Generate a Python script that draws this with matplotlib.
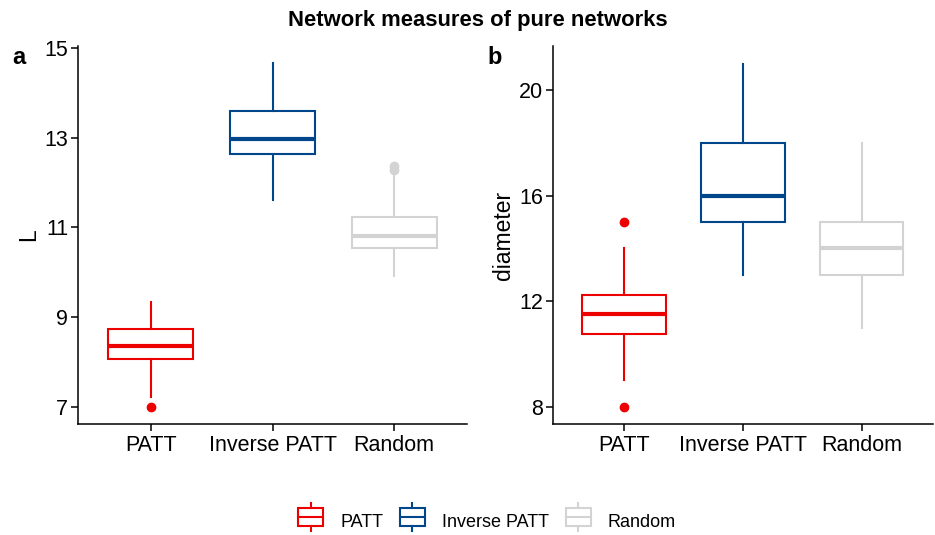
"""
Network measures of pure networks -- boxplots of L and diameter for
PATT, inverse PATT and random networks (two panels, shared legend).
"""
import matplotlib; matplotlib.use("Agg")
import matplotlib.pyplot as plt
from matplotlib.legend_handler import HandlerBase
from matplotlib.patches import Rectangle, Patch
from matplotlib.lines import Line2D

plt.rcParams["font.family"] = ["Liberation Sans", "DejaVu Sans"]

groups = ["PATT", "Inverse PATT", "Random"]
colors = ["#ED0000", "#00468B", "#D3D3D3"]

# panel a: L  (whislo, q1, med, q3, whishi, fliers)
L_whislo = [7.22, 11.61, 9.91]
L_q1     = [8.06, 12.63, 10.54]
L_med    = [8.36, 12.97, 10.80]
L_q3     = [8.74, 13.59, 11.23]
L_whishi = [9.33, 14.68, 12.20]
L_fliers = [[6.98], [], [12.28, 12.38]]

# panel b: diameter
D_whislo = [9, 13, 11]
D_q1     = [10.75, 15, 13]
D_med    = [11.5, 16, 14]
D_q3     = [12.25, 18, 15]
D_whishi = [14, 21, 18]
D_fliers = [[15, 8], [], []]

L_ticks = [7, 9, 11, 13, 15]
D_ticks = [8, 12, 16, 20]


def stats(lo, q1, med, q3, hi, fl):
    return [dict(whislo=a, q1=b, med=c, q3=d, whishi=e, fliers=f)
            for a, b, c, d, e, f in zip(lo, q1, med, q3, hi, fl)]


def panel(ax, st, ticks, ylabel):
    for i, (s, c) in enumerate(zip(st, colors)):
        ax.bxp([s], positions=[i + 1], widths=0.7, showcaps=False, patch_artist=True,
               boxprops=dict(facecolor="white", edgecolor=c, lw=1.5),
               whiskerprops=dict(color=c, lw=1.5),
               medianprops=dict(color=c, lw=3, solid_capstyle="butt"),
               flierprops=dict(marker="o", markerfacecolor=c, markeredgecolor=c, markersize=6))
    ax.set_xlim(0.4, 3.6)
    ax.set_xticks([1, 2, 3]); ax.set_xticklabels(groups)
    ax.set_yticks(ticks)
    ax.set_ylabel(ylabel, fontsize=16.5, labelpad=3)
    for sp in ["top", "right"]: ax.spines[sp].set_visible(False)
    for sp in ["left", "bottom"]: ax.spines[sp].set_linewidth(1.1)
    ax.tick_params(axis="both", labelsize=15.5, length=5, width=1.1, colors="black")
    ax.tick_params(axis="x", pad=3)
    ax.tick_params(axis="y", pad=2)


class BoxHandler(HandlerBase):
    def create_artists(self, legend, orig, x0, y0, w, h, fontsize, trans):
        c = orig.get_edgecolor()
        r = Rectangle((x0, y0 - 0.05 * h), w, 1.1 * h, facecolor="white", edgecolor=c, lw=1.5, transform=trans)
        m = Line2D([x0, x0 + w], [y0 + 0.5 * h] * 2, color=c, lw=1.5, transform=trans)
        t = Line2D([x0 + w / 2] * 2, [y0 + 1.05 * h, y0 + 1.35 * h], color=c, lw=1.5, transform=trans)
        b = Line2D([x0 + w / 2] * 2, [y0 - 0.35 * h, y0 - 0.05 * h], color=c, lw=1.5, transform=trans)
        return [r, m, t, b]


fig = plt.figure(figsize=(9.35, 5.35), dpi=100)
axa = fig.add_axes([0.0834, 0.2075, 0.4161, 0.7065])
axb = fig.add_axes([0.5911, 0.2075, 0.4069, 0.7065])

panel(axa, stats(L_whislo, L_q1, L_med, L_q3, L_whishi, L_fliers), L_ticks, "L")
panel(axb, stats(D_whislo, D_q1, D_med, D_q3, D_whishi, D_fliers), D_ticks, "diameter")
axa.set_ylim(6.61, 15.05)
axb.set_ylim(7.35, 21.67)

fig.text(0.511, 0.962, "Network measures of pure networks", ha="center", va="center",
         fontsize=15.8, fontweight="bold")
fig.text(0.013, 0.893, "a", ha="left", va="center", fontsize=17, fontweight="bold")
fig.text(0.521, 0.893, "b", ha="left", va="center", fontsize=17, fontweight="bold")

handles = [Patch(facecolor="white", edgecolor=c, label=g) for g, c in zip(groups, colors)]
fig.legend(handles=handles, loc="center", bbox_to_anchor=(0.521, 0.025), ncol=3, frameon=False,
           fontsize=13, handler_map={Patch: BoxHandler()}, handlelength=1.4, handleheight=1.0,
           handletextpad=0.95, columnspacing=0.9)

fig.savefig("out.png", dpi=100)
